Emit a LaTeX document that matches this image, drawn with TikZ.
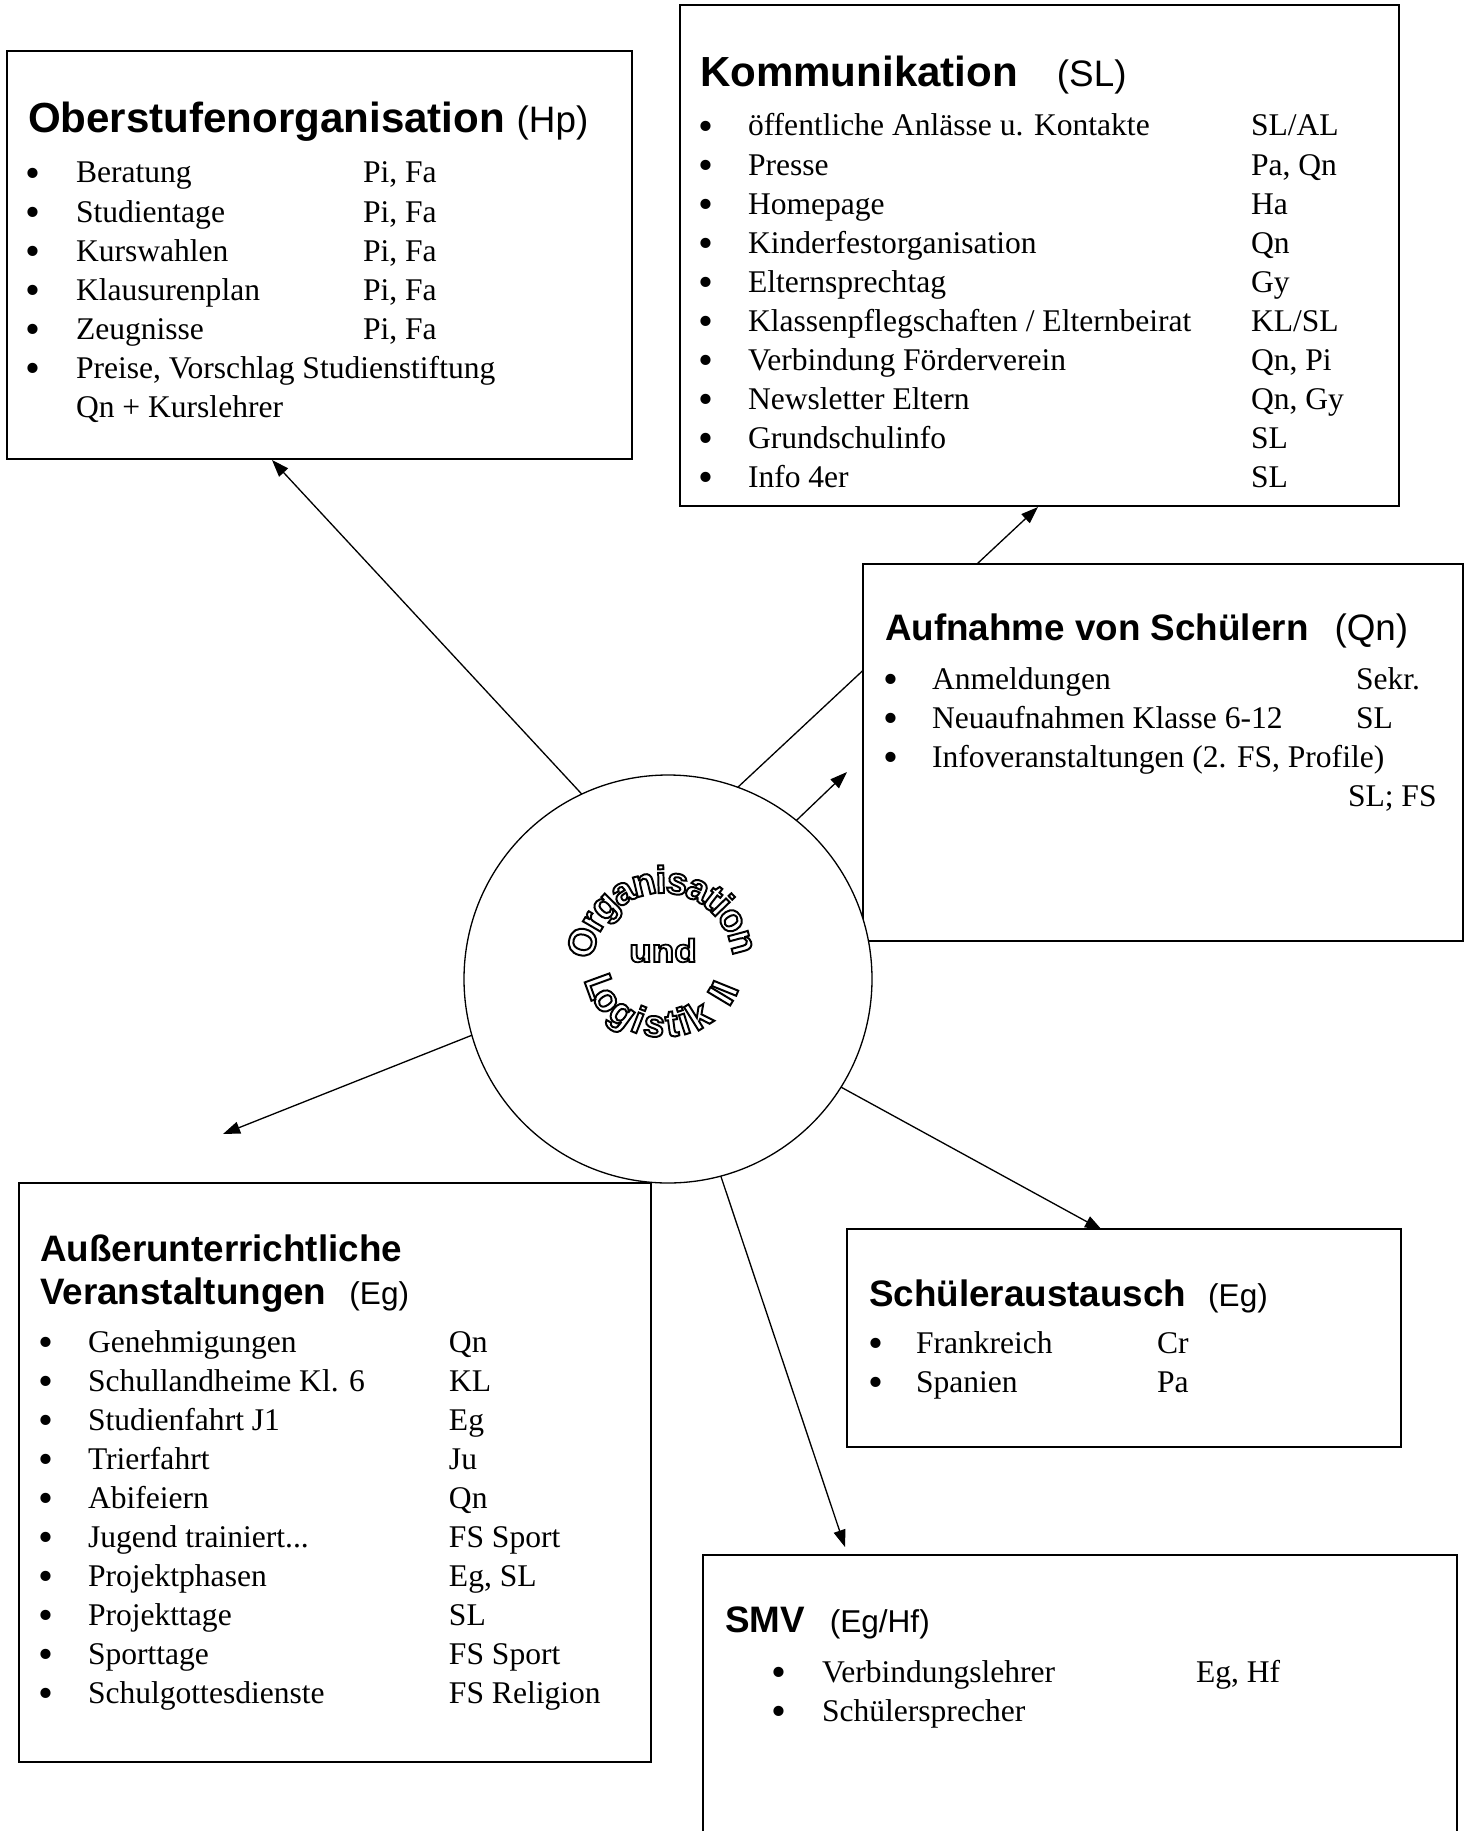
\documentclass[tikz,border=0pt]{standalone}
\usepackage{fontspec}
\setmainfont{Liberation Serif}
\newfontfamily\hfont{Liberation Sans}
\usetikzlibrary{arrows.meta}
\newlength\uu
\setlength\uu{0.3802pt}
\pgfdeclarelayer{bgfill}
\pgfdeclarelayer{back}
\pgfsetlayers{bgfill,back,main}
\newcommand\hbig{\hfont\bfseries\fontsize{16}{19}\selectfont}
\newcommand\hmid{\hfont\bfseries\fontsize{14}{16.35}\selectfont}
\newcommand\pbig{\hfont\mdseries\fontsize{14}{17}\selectfont}
\newcommand\psmall{\hfont\mdseries\fontsize{12}{14}\selectfont}
\newcommand\bul{\makebox[0pt]{\raisebox{-0.15em}{\scalebox{1.35}{\textbullet}}}}
% hollow (outlined) letters via PDF text render mode 1
\newcommand\wl[1]{\special{pdf:literal 1 Tr 0.75 w}#1\special{pdf:literal 0 Tr}}
\tikzset{
  box/.style={draw, line width=0.5pt, fill=white, rectangle, inner sep=0pt, outer sep=0pt},
  txt/.style={anchor=base west, inner sep=0pt, outer sep=0pt},
  lst/.style={txt, font=\fontsize{12}{14.83}\selectfont},
  conn/.style={draw, line width=0.5pt, -{Triangle[length=6.5pt, width=4.6pt]}},
  wa/.style={anchor=base, inner sep=0pt, outer sep=0pt, font=\hfont\bfseries\fontsize{14.5}{14.5}\selectfont},
  hubstyle/.style={circle, draw, line width=0.5pt, fill=white, inner sep=0pt, outer sep=0pt, minimum size=408\uu}
}
\begin{document}
\begin{tikzpicture}[x=0.3802pt, y=-0.3802pt]
\useasboundingbox (0,0) rectangle (1467,1831);
\begin{pgfonlayer}{bgfill}
\fill[white] (0,0) rectangle (1467,1831);
\end{pgfonlayer}

% boxes
\node[box, minimum width=625\uu, minimum height=408\uu] (ober) at (319.5,255) {};
\node[box, minimum width=719\uu, minimum height=501\uu] (komm) at (1039.5,255.5) {};
\node[box, minimum width=600\uu, minimum height=377\uu] (aufn) at (1163,752.5) {};
\node[box, minimum width=632\uu, minimum height=579\uu] (auss) at (335,1472.5) {};
\node[box, minimum width=554\uu, minimum height=218\uu] (schu) at (1124,1338) {};
\node[box, minimum width=754\uu, minimum height=300\uu] (smv) at (1080,1705) {};
\node[hubstyle] (hub) at (668,979) {};

% Oberstufenorganisation
\node[txt] (oberH) at (28,133) {{\hbig Oberstufenorganisation }{\pbig(Hp)}};
\node[lst] (oberL) at (33,183) {\begin{tabular}[t]{@{}p{43\uu}@{}p{287\uu}@{}l@{}}
\bul & Beratung & Pi, Fa\\
\bul & Studientage & Pi, Fa\\
\bul & Kurswahlen & Pi, Fa\\
\bul & Klausurenplan & Pi, Fa\\
\bul & Zeugnisse & Pi, Fa\\
\bul & \multicolumn{2}{@{}l@{}}{Preise, Vorschlag Studienstiftung}\\
 & Qn + Kurslehrer &
\end{tabular}};

% Kommunikation
\node[txt] (kommH) at (700,87) {{\hbig Kommunikation}\hspace{39\uu}{\pbig(SL)}};
\node[lst] (kommL) at (706,136) {\begin{tabular}[t]{@{}p{42\uu}@{}p{503\uu}@{}l@{}}
\bul & öffentliche Anlässe u. Kontakte & SL/AL\\
\bul & Presse & Pa, Qn\\
\bul & Homepage & Ha\\
\bul & Kinderfestorganisation & Qn\\
\bul & Elternsprechtag & Gy\\
\bul & Klassenpflegschaften / Elternbeirat & KL/SL\\
\bul & Verbindung Förderverein & Qn, Pi\\
\bul & Newsletter Eltern & Qn, Gy\\
\bul & Grundschulinfo & SL\\
\bul & Info 4er & SL
\end{tabular}};

% Aufnahme von Schuelern
\node[txt] (aufnH) at (885,640) {{\hmid Aufnahme von Schülern}\hspace{26\uu}{\pbig(Qn)}};
\node[lst] (aufnL) at (891,689) {\begin{tabular}[t]{@{}p{41\uu}@{}p{424\uu}@{}l@{}}
\bul & Anmeldungen & Sekr.\\
\bul & Neuaufnahmen Klasse 6-12 & SL\\
\bul & \multicolumn{2}{@{}l@{}}{Infoveranstaltungen (2. FS, Profile)}\\
 & & \hspace*{-8\uu}SL; FS
\end{tabular}};

% Ausserunterrichtliche Veranstaltungen
\node[txt, font=\hmid] (aussH) at (40,1261) {\begin{tabular}[t]{@{}l@{}}Außerunterrichtliche\\Veranstaltungen\hspace{23\uu}{\psmall(Eg)}\end{tabular}};
\node[lst] (aussL) at (46,1352) {\begin{tabular}[t]{@{}p{42\uu}@{}p{361\uu}@{}l@{}}
\bul & Genehmigungen & Qn\\
\bul & Schullandheime Kl. 6 & KL\\
\bul & Studienfahrt J1 & Eg\\
\bul & Trierfahrt & Ju\\
\bul & Abifeiern & Qn\\
\bul & Jugend trainiert... & FS Sport\\
\bul & Projektphasen & Eg, SL\\
\bul & Projekttage & SL\\
\bul & Sporttage & FS Sport\\
\bul & Schulgottesdienste & FS Religion
\end{tabular}};

% Schueleraustausch
\node[txt] (schuH) at (869,1306) {{\hmid Schüleraustausch}\hspace{22\uu}{\psmall(Eg)}};
\node[lst] (schuL) at (876,1353) {\begin{tabular}[t]{@{}p{40\uu}@{}p{241\uu}@{}l@{}}
\bul & Frankreich & Cr\\
\bul & Spanien & Pa
\end{tabular}};

% SMV
\node[txt] (smvH) at (725,1632) {{\hmid SMV}\hspace{25\uu}{\psmall(Eg/Hf)}};
\node[lst] (smvL) at (779,1682) {\begin{tabular}[t]{@{}p{43\uu}@{}p{374\uu}@{}l@{}}
\bul & Verbindungslehrer & Eg, Hf\\
\bul & Schülersprecher &
\end{tabular}};

% WordArt in the circle
\begin{scope}[shift={(663,963)}, x=0.3802pt, y=0.3802pt]
\foreach \ch/\an [count=\i] in {O/165.5, r/149.46, g/135.71, a/119.66, n/103.62, i/91.40, s/79.93, a/64.64, t/52.42, i/44.02, o/31.80, n/15}
  \node[wa, rotate=\an-90] (wt\i) at (\an:70) {\wl{\ch}};
\begin{scope}[yshift=-1.52pt]
\foreach \ch/\an [count=\i] in {L/200, o/214.5, g/233.6, i/248.6, s/262.6, t/277.6, i/287.9, k/302, I/329, I/338}
  \node[wa, rotate=\an+90] (wb\i) at (\an:80 and 70) {\wl{\ch}};
\end{scope}
\node[wa, font=\hfont\bfseries\fontsize{14}{14}\selectfont] (wm) at (0,1) {\scalebox{1}[0.88]{\wl{und}}};
\end{scope}

% connectors
\coordinate (tO) at (272,460);
\coordinate (tK) at (1038,507);
\coordinate (tA) at (847,772);
\coordinate (tS) at (1102,1230);
\coordinate (tM) at (845,1547);
\coordinate (tU) at (223,1134);
\begin{pgfonlayer}{back}
\draw[conn] (hub.115.8) -- (tO);
\draw[conn] (hub.70.4) -- (tK);
\draw[conn] (hub.51.7) -- (tA);
\draw[conn] (hub.-32.2) -- (tS);
\draw[conn] (hub.-75.8) -- (tM);
\draw[conn] (hub.196.6) -- (tU);
\end{pgfonlayer}
\end{tikzpicture}
\end{document}
